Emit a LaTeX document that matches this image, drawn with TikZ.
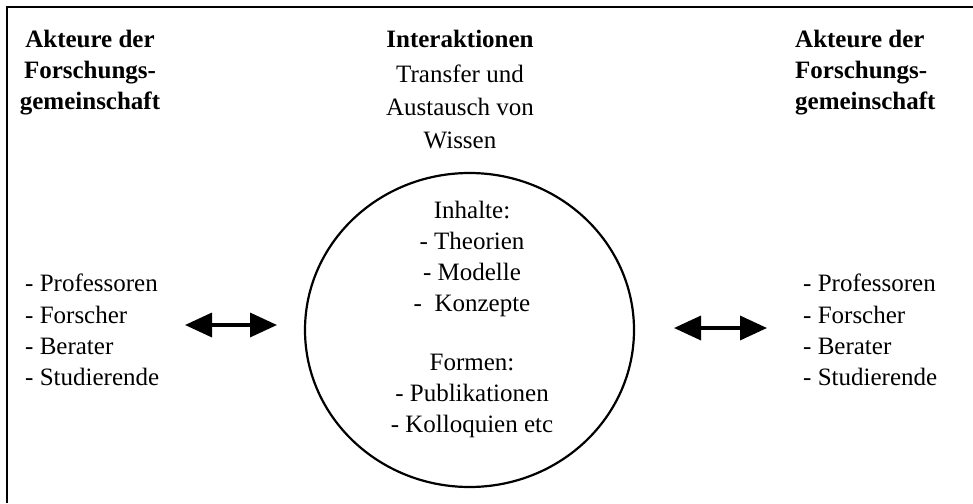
\documentclass[tikz,border=0pt]{standalone}
\usepackage{fontspec}
\setmainfont{Liberation Serif}
\usetikzlibrary{arrows.meta,shapes.geometric}
\begin{document}
\begin{tikzpicture}[x=1pt,y=-1pt,
  txt/.style={inner sep=0pt,font=\fontsize{25}{31.3}\selectfont},
  head/.style={inner sep=0pt,font=\fontsize{25}{31}\selectfont\bfseries},
  tip/.style={Triangle[length=27pt,width=24pt]},
  dblarrow/.style={line width=3.5pt,{Triangle[length=27pt,width=24pt]}-{Triangle[length=27pt,width=24pt]}},
  frame/.style={line width=2pt}]
\useasboundingbox (0,0) rectangle (973,503);
\draw[frame] (7,503) -- (7,7) -- (973,7);
% headings
\node[head,align=center,anchor=north] (lhead) at (90,30) {Akteure der\\Forschungs-\\gemeinschaft};
\node[head,align=left,anchor=north west] (rhead) at (795,30) {Akteure der\\Forschungs-\\gemeinschaft};
\node[inner sep=0pt,font=\fontsize{25}{33}\selectfont,align=center,anchor=north] (ctitle) at (460,30)
  {\textbf{Interaktionen}\\[2pt]Transfer und\\Austausch von\\Wissen};
% circle
\node[draw,ellipse,line width=2.2pt,minimum width=329pt,minimum height=314pt,inner sep=0pt] (circ) at (469.5,330) {};
\node[inner sep=0pt,font=\fontsize{25}{31}\selectfont,align=center,anchor=north] (ctext) at (472,201)
  {Inhalte:\\- Theorien\\- Modelle\\-\ \ Konzepte\\[28pt]Formen:\\- Publikationen\\- Kolloquien etc};
% lists
\node[txt,align=left,anchor=north west] (llist) at (25,274) {- Professoren\\- Forscher\\- Berater\\- Studierende};
\node[txt,align=left,anchor=north west] (rlist) at (803,274) {- Professoren\\- Forscher\\- Berater\\- Studierende};
% arrows
\coordinate (la) at (185,325);
\coordinate (lb) at (277,325);
\coordinate (ra) at (674,328);
\coordinate (rb) at (767,328);
\draw[dblarrow] (la) -- (lb);
\draw[dblarrow] (ra) -- (rb);
\end{tikzpicture}
\end{document}
